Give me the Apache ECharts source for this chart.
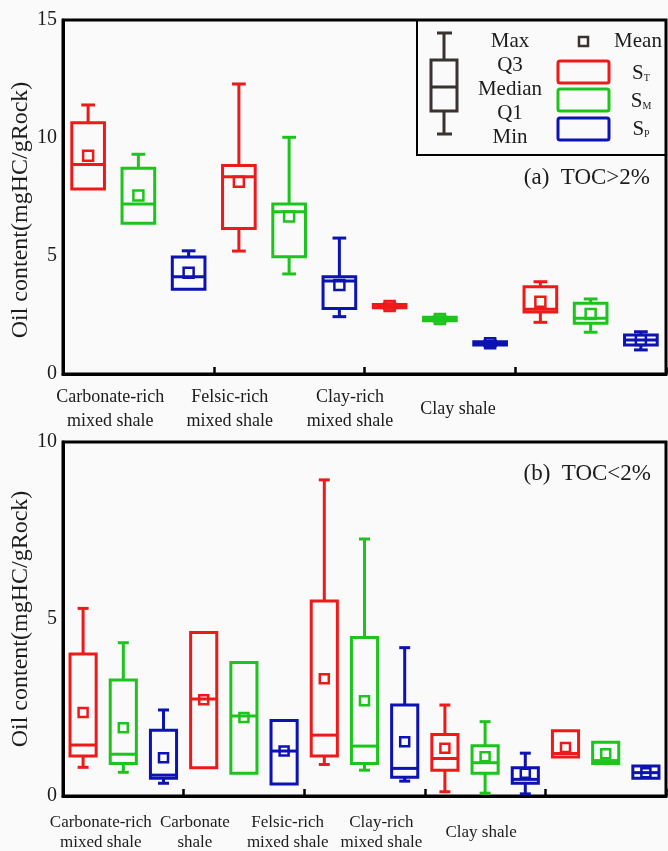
<!DOCTYPE html>
<html>
<head>
<meta charset="utf-8">
<script src="https://cdn.jsdelivr.net/npm/echarts@6/dist/echarts.min.js"></script>
<style>
  html, body { margin: 0; padding: 0; background: #fafafa; }
  #chart { width: 668px; height: 851px; }
</style>
</head>
<body>
<div id="chart"></div>
<script>
// Lithofacies groups for each TOC panel
const groupsA = ['Carbonate-rich\nmixed shale', 'Felsic-rich\nmixed shale', 'Clay-rich\nmixed shale', 'Clay shale'];
const groupsB = ['Carbonate-rich\nmixed shale', 'Carbonate\nshale', 'Felsic-rich\nmixed shale', 'Clay-rich\nmixed shale', 'Clay shale'];
// where each group caption sits along the slot axis
const labelPosA = [0.44, 2.82, 5.21, 7.36];
const labelPosB = [0.44, 2.78, 5.09, 7.42, 9.90];

// Sample types plotted inside each group
const sampleTypes = ['ST', 'SM', 'SP'];

// Panel (a) TOC>2% : [min, Q1, median, Q3, max]
const stA = [[7.84, 7.84, 8.88, 10.65, 11.40], [5.21, 6.16, 8.36, 8.84, 12.29], [2.78, 2.81, 2.88, 2.95, 2.98], [2.19, 2.63, 2.74, 3.70, 3.91]];
const smA = [[6.39, 6.39, 7.20, 8.72, 9.31], [4.24, 4.97, 6.88, 7.20, 10.03], [2.23, 2.26, 2.33, 2.40, 2.43], [1.77, 2.15, 2.36, 3.00, 3.18]];
const spA = [[3.59, 3.59, 4.12, 4.96, 5.22], [2.43, 2.78, 3.94, 4.12, 5.76], [1.20, 1.23, 1.30, 1.37, 1.40], [1.02, 1.23, 1.44, 1.65, 1.79]];
const stMeanA = [9.25, 8.15, 2.88, 3.06];
const smMeanA = [7.56, 6.67, 2.33, 2.54];
const spMeanA = [4.29, 3.77, 1.30, 1.44];

// Panel (b) TOC<2% : [min, Q1, median, Q3, max]
const stB = [[0.81, 1.13, 1.44, 4.01, 5.30], [0.80, 0.80, 2.74, 4.62, 4.62], [0.89, 1.13, 1.72, 5.51, 8.93], [0.12, 0.73, 1.06, 1.74, 2.57], [1.10, 1.10, 1.20, 1.84, 1.84]];
const smB = [[0.67, 0.92, 1.18, 3.28, 4.33], [0.64, 0.64, 2.26, 3.77, 3.77], [0.73, 0.92, 1.41, 4.48, 7.26], [0.08, 0.64, 0.94, 1.42, 2.10], [0.92, 0.92, 1.00, 1.52, 1.52]];
const spB = [[0.36, 0.50, 0.59, 1.86, 2.43], [0.34, 0.34, 1.27, 2.13, 2.13], [0.42, 0.53, 0.78, 2.57, 4.19], [0.06, 0.36, 0.47, 0.80, 1.21], [0.50, 0.50, 0.66, 0.85, 0.85]];
const stMeanB = [2.36, 2.72, 3.31, 1.35, 1.37];
const smMeanB = [1.93, 2.22, 2.69, 1.11, 1.19];
const spMeanB = [1.08, 1.27, 1.53, 0.64, 0.66];

const yMaxA = 15, yMaxB = 10, yStep = 5;

const COLORS = { ST: '#ee1a1a', SM: '#1ec41e', SP: '#0d12b2' };
const INK = '#1c1c1c';
const BG = '#fafafa';
const SERIF = '"Liberation Serif", "DejaVu Serif", serif';

// one slot per (group, sample type)
function slotNames(groups) {
  const out = [];
  groups.forEach(g => sampleTypes.forEach(t => out.push(g.replace('\n', ' ') + ' ' + t)));
  return out;
}

// box + whiskers with short caps, drawn through the axis scales
function renderBox(params, api) {
  const x = api.value(0);
  const mn = api.value(1), q1 = api.value(2), md = api.value(3), q3 = api.value(4), mx = api.value(5);
  const band = api.size([1, 0])[0];
  const bw = band * 0.65;
  const cw = bw * 0.42;
  const pMin = api.coord([x, mn]), pQ1 = api.coord([x, q1]), pMd = api.coord([x, md]);
  const pQ3 = api.coord([x, q3]), pMax = api.coord([x, mx]);
  const cx = pMd[0];
  const color = api.visual('color');
  const st = { stroke: color, lineWidth: 3, fill: null };
  const kids = [
    { type: 'rect', shape: { x: cx - bw / 2, y: pQ3[1], width: bw, height: Math.max(pQ1[1] - pQ3[1], 0.5) }, style: st },
    { type: 'line', shape: { x1: cx - bw / 2, y1: pMd[1], x2: cx + bw / 2, y2: pMd[1] }, style: st }
  ];
  if (mx > q3) {
    kids.push({ type: 'line', shape: { x1: cx, y1: pQ3[1], x2: cx, y2: pMax[1] }, style: st });
    kids.push({ type: 'line', shape: { x1: cx - cw / 2, y1: pMax[1], x2: cx + cw / 2, y2: pMax[1] }, style: st });
  }
  if (mn < q1) {
    kids.push({ type: 'line', shape: { x1: cx, y1: pQ1[1], x2: cx, y2: pMin[1] }, style: st });
    kids.push({ type: 'line', shape: { x1: cx - cw / 2, y1: pMin[1], x2: cx + cw / 2, y2: pMin[1] }, style: st });
  }
  return { type: 'group', children: kids };
}

function boxSeries(stats, k, axisIdx, name) {
  return {
    type: 'custom', name: name, xAxisIndex: axisIdx, yAxisIndex: axisIdx,
    itemStyle: { color: COLORS[name] },
    renderItem: renderBox,
    encode: { x: 0, y: [1, 2, 3, 4, 5] },
    data: stats.map((s, g) => [g * 3 + k].concat(s)),
    z: 3
  };
}

function meanSeries(means, k, axisIdx, name, size) {
  return {
    type: 'scatter', name: name + ' mean', xAxisIndex: axisIdx, yAxisIndex: axisIdx,
    symbol: 'rect', symbolSize: size,
    itemStyle: { color: 'rgba(0,0,0,0)', borderColor: COLORS[name], borderWidth: 2.5, opacity: 1 },
    data: means.map((m, g) => [g * 3 + k, m]),
    z: 4
  };
}

function nearestLabel(v, pos, names) {
  let best = 0;
  pos.forEach((p, i) => { if (Math.abs(p - v) < Math.abs(pos[best] - v)) best = i; });
  return names[best];
}

const slotsA = slotNames(groupsA);
const slotsB = slotNames(groupsB);

const axisLineStyle = { color: '#000', width: 3 };

function slotAxis(gridIdx, slots) {
  return {
    type: 'category', gridIndex: gridIdx, data: slots, position: 'bottom',
    axisLine: { onZero: false, lineStyle: axisLineStyle },
    axisTick: { show: true, inside: true, length: 7, interval: (i) => i % 3 === 0, lineStyle: { color: '#000', width: 2.5 } },
    axisLabel: { show: false },
    splitLine: { show: false }
  };
}

function captionAxis(gridIdx, n, pos, names, size, lh, margin) {
  return {
    type: 'value', gridIndex: gridIdx, position: 'bottom', min: -0.5, max: n - 0.5,
    axisLine: { show: false, onZero: false }, axisTick: { show: false }, splitLine: { show: false },
    axisLabel: {
      customValues: pos,
      formatter: (v) => nearestLabel(v, pos, names),
      fontFamily: SERIF, fontSize: size, lineHeight: lh, color: INK,
      verticalAlign: 'middle', margin: margin, align: 'center', hideOverlap: false
    }
  };
}

function valueAxis(gridIdx, max, padRight) {
  return {
    type: 'value', gridIndex: gridIdx, min: 0, max: max, interval: yStep,
    name: 'Oil content(mgHC/gRock)', nameLocation: 'middle', nameGap: 30, nameMoveOverlap: false,
    nameTextStyle: { fontFamily: SERIF, fontSize: 24, color: INK, padding: [0, padRight, 0, 0] },
    axisLine: { show: true, onZero: false, lineStyle: axisLineStyle },
    axisTick: { show: false },
    axisLabel: { fontFamily: SERIF, fontSize: 20, color: INK, margin: 6 },
    splitLine: { show: false }
  };
}

function txt(x, y, text, size, align, extra) {
  return Object.assign({
    type: 'text', x: x, y: y, z: 20,
    style: { text: text, fontFamily: SERIF, fontSize: size, fill: INK, align: align || 'center', verticalAlign: 'middle' }
  }, extra || {});
}

const legendInk = '#3a3131';
const legendGraphics = [
  { type: 'polyline', z: 20, shape: { points: [[417, 20], [417, 155], [667, 155]] }, style: { stroke: '#000', lineWidth: 2, fill: null } },
  // generic box glyph
  { type: 'line', z: 20, shape: { x1: 444, y1: 33, x2: 444, y2: 60 }, style: { stroke: legendInk, lineWidth: 3 } },
  { type: 'line', z: 20, shape: { x1: 444, y1: 111, x2: 444, y2: 134 }, style: { stroke: legendInk, lineWidth: 3 } },
  { type: 'line', z: 20, shape: { x1: 437, y1: 33, x2: 452, y2: 33 }, style: { stroke: legendInk, lineWidth: 3 } },
  { type: 'line', z: 20, shape: { x1: 437, y1: 134, x2: 452, y2: 134 }, style: { stroke: legendInk, lineWidth: 3 } },
  { type: 'rect', z: 20, shape: { x: 431, y: 60, width: 26, height: 51 }, style: { stroke: legendInk, lineWidth: 3, fill: null } },
  { type: 'line', z: 20, shape: { x1: 431, y1: 87, x2: 457, y2: 87 }, style: { stroke: legendInk, lineWidth: 3 } },
  txt(510, 41, 'Max', 21), txt(510, 65, 'Q3', 21), txt(510, 89, 'Median', 21), txt(510, 113, 'Q1', 21), txt(510, 137, 'Min', 21),
  // mean glyph
  { type: 'rect', z: 20, shape: { x: 579, y: 37, width: 9, height: 9 }, style: { stroke: legendInk, lineWidth: 2.5, fill: null } },
  txt(638, 41, 'Mean', 21),
  // sample type swatches
  { type: 'rect', z: 20, shape: { x: 558, y: 61, width: 51, height: 22, r: 2 }, style: { stroke: COLORS.ST, lineWidth: 3, fill: null } },
  { type: 'rect', z: 20, shape: { x: 558, y: 89, width: 51, height: 22, r: 2 }, style: { stroke: COLORS.SM, lineWidth: 3, fill: null } },
  { type: 'rect', z: 20, shape: { x: 558, y: 118, width: 51, height: 22, r: 2 }, style: { stroke: COLORS.SP, lineWidth: 3, fill: null } }
];
const subRich = { s: { fontFamily: SERIF, fontSize: 10, verticalAlign: 'bottom', padding: [10, 0, 0, 0] } };
[['T', 73], ['M', 101], ['P', 129]].forEach(([sub, y]) => {
  legendGraphics.push({
    type: 'text', x: 641, y: y, z: 20,
    style: { text: 'S{s|' + sub + '}', fontFamily: SERIF, fontSize: 21, fill: INK, align: 'center', verticalAlign: 'middle', rich: subRich }
  });
});

const gridBase = { left: 63, right: 2, height: 354, show: true, borderColor: '#000', borderWidth: 3, backgroundColor: 'transparent', containLabel: false, outerBoundsMode: 'none' };

const option = {
  backgroundColor: BG,
  animation: false,
  grid: [
    Object.assign({ top: 20 }, gridBase),
    Object.assign({ top: 442 }, gridBase)
  ],
  xAxis: [
    slotAxis(0, slotsA),
    slotAxis(1, slotsB),
    captionAxis(0, slotsA.length, labelPosA, groupsA, 18, 24, 35),
    captionAxis(1, slotsB.length, labelPosB, groupsB, 17, 20, 37)
  ],
  yAxis: [valueAxis(0, yMaxA, 26), valueAxis(1, yMaxB, 0)],
  series: [
    boxSeries(stA, 0, 0, 'ST'), boxSeries(smA, 1, 0, 'SM'), boxSeries(spA, 2, 0, 'SP'),
    meanSeries(stMeanA, 0, 0, 'ST', 10), meanSeries(smMeanA, 1, 0, 'SM', 10), meanSeries(spMeanA, 2, 0, 'SP', 10),
    boxSeries(stB, 0, 1, 'ST'), boxSeries(smB, 1, 1, 'SM'), boxSeries(spB, 2, 1, 'SP'),
    meanSeries(stMeanB, 0, 1, 'ST', 9), meanSeries(smMeanB, 1, 1, 'SM', 9), meanSeries(spMeanB, 2, 1, 'SP', 9)
  ],
  graphic: legendGraphics.concat([
    txt(650, 178, '(a)  TOC>2%', 23, 'right'),
    txt(651, 474, '(b)  TOC<2%', 23, 'right')
  ])
};

const chart = echarts.init(document.getElementById('chart'), null, { renderer: 'canvas' });
chart.setOption(option);
</script>
</body>
</html>
